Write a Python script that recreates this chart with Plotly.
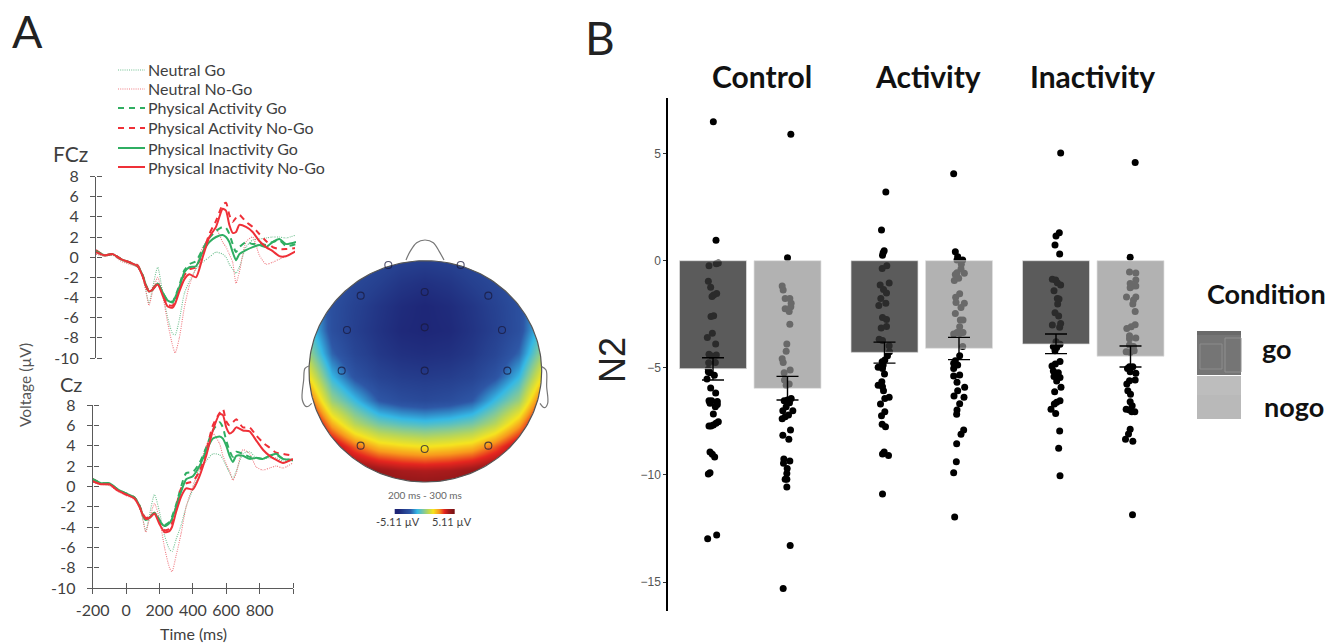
import numpy as np
import plotly.graph_objects as go

W, H = 1330, 643
def px(x): return x / W
def py(y): return 1 - y / H

# ---------- Panel A: ERP waveforms ----------
T = [-200,-150,-100,-50,0,50,80,100,118,140,170,200,230,260,275,300,330,360,400,440,480,520,560,580,600,620,640,660,700,740,780,820,860,900,940,1000]
SERIES_NAMES = ["Neutral Go","Neutral No-Go","Physical Activity Go","Physical Activity No-Go","Physical Inactivity Go","Physical Inactivity No-Go"]

FCZ_NEU_GO   = [0.3,0.1,0.2,-0.3,-0.6,-1.0,-2.0,-3.4,-4.6,-3.0,-1.0,-3.5,-6.0,-7.6,-7.7,-6.2,-3.6,-2.4,-1.2,-0.5,0.0,0.5,0.3,0.0,-0.7,-1.2,-1.6,-1.0,1.0,1.7,1.8,1.9,2.0,2.0,1.9,2.2]
FCZ_NEU_NOGO = [0.3,0.1,0.2,-0.4,-0.7,-1.0,-2.0,-3.4,-4.8,-3.4,-2.0,-3.8,-6.5,-8.8,-9.5,-8.0,-5.0,-2.8,-1.0,1.0,2.0,2.8,1.5,1.0,0.3,-0.5,-2.6,-1.5,1.5,2.0,0.2,-0.7,-0.5,-0.2,0.1,0.6]
FCZ_PA_GO    = [0.6,0.2,0.3,-0.2,-0.5,-0.9,-1.8,-2.8,-3.5,-3.2,-2.6,-3.5,-4.3,-4.4,-3.9,-2.8,-1.3,-0.7,-0.4,0.8,1.9,2.6,3.0,2.9,2.3,1.3,0.5,1.0,1.5,1.3,1.4,1.2,1.5,1.7,1.1,1.3]
FCZ_PA_NOGO  = [0.7,0.2,0.3,-0.2,-0.5,-0.8,-1.8,-2.8,-3.3,-3.1,-2.6,-3.6,-4.7,-4.8,-4.3,-3.1,-1.8,-1.2,-1.0,0.4,2.3,3.6,5.2,5.4,4.2,3.5,3.9,4.2,3.5,3.0,2.3,1.6,1.0,0.8,0.8,0.9]
FCZ_PI_GO    = [0.6,0.2,0.3,-0.2,-0.5,-0.9,-1.8,-2.8,-3.4,-3.2,-2.6,-3.5,-4.3,-4.5,-4.0,-3.0,-1.5,-1.0,-0.9,0.5,1.5,2.0,2.2,2.0,1.5,0.5,-0.3,0.3,0.7,1.0,1.2,1.0,1.5,1.8,1.3,1.5]
FCZ_PI_NOGO  = [0.5,0.2,0.3,-0.2,-0.5,-0.9,-1.9,-2.9,-3.4,-3.2,-2.7,-3.8,-4.9,-5.0,-4.6,-3.4,-2.2,-1.7,-2.0,0.0,2.0,3.0,4.8,4.6,3.2,2.4,2.5,3.2,3.0,2.5,1.6,1.0,0.6,0.1,0.1,0.6]

CZ_NEU_GO    = [0.4,0.2,0.1,-0.4,-0.8,-1.2,-2.0,-3.2,-4.4,-2.8,-0.8,-2.5,-4.8,-6.2,-6.4,-5.2,-3.8,-2.0,-0.3,1.5,2.5,3.2,3.1,2.7,2.0,1.3,0.8,1.5,3.2,3.4,2.8,2.7,2.8,2.8,2.5,2.5]
CZ_NEU_NOGO  = [0.5,0.2,0.1,-0.5,-0.9,-1.3,-2.1,-3.2,-4.5,-3.2,-1.7,-3.2,-6.0,-8.0,-8.4,-6.8,-4.6,-2.0,0.0,2.0,4.0,5.2,4.2,3.0,2.2,1.5,0.6,1.3,3.6,3.2,1.9,1.6,1.8,2.0,1.8,2.3]
CZ_PA_GO     = [0.7,0.3,0.3,-0.3,-0.7,-1.1,-1.9,-2.8,-3.3,-3.1,-2.6,-3.3,-3.8,-3.5,-3.0,-1.8,0.0,1.3,1.4,2.3,3.8,5.5,6.3,5.8,4.5,3.5,2.9,3.4,3.2,2.9,2.8,2.7,3.0,3.1,2.7,2.6]
CZ_PA_NOGO   = [0.7,0.3,0.2,-0.4,-0.8,-1.1,-1.9,-2.7,-3.1,-3.0,-2.6,-3.5,-4.3,-4.2,-3.6,-2.0,-0.2,0.3,0.5,1.5,3.5,6.0,7.2,7.6,6.4,6.0,6.3,6.6,5.8,5.8,5.0,4.3,3.8,3.3,3.2,3.0]
CZ_PI_GO     = [0.7,0.3,0.3,-0.3,-0.7,-1.1,-1.9,-2.8,-3.3,-3.1,-2.6,-3.4,-3.9,-3.6,-3.2,-2.0,-0.5,0.7,1.0,2.0,3.5,4.7,4.9,4.7,4.0,3.0,2.4,3.0,3.0,2.7,2.8,2.7,3.0,3.2,2.7,2.6]
CZ_PI_NOGO   = [0.5,0.2,0.2,-0.4,-0.8,-1.2,-2.0,-2.8,-3.2,-3.1,-2.7,-3.7,-4.5,-4.4,-4.0,-2.5,-1.0,-0.2,-0.3,1.0,3.0,5.5,7.1,7.0,5.8,5.2,5.4,5.8,5.5,5.4,4.5,3.6,3.0,2.6,2.3,2.7]

VOLT_TICKS = [8,6,4,2,0,-2,-4,-6,-8,-10]
TIME_TICKS = [-200,0,200,400,600,800,1000]
TIME_LABELS = ["-200","0","200","400","600","800",""]

# ---------- Panel A: topographic map (voltage, rows top to bottom) ----------
TOPO_X = [40,110,180,250,320,390,460,530,600,670,740]
TOPO_Y = [90,160,230,300,370,440,510,580,650,720,790]
TOPO_Z = [
 [-2.0,-2.8,-3.2,-3.6,-3.9,-4.0,-3.9,-3.6,-3.2,-2.8,-2.0],
 [-2.0,-3.0,-3.6,-4.0,-4.4,-4.6,-4.4,-4.0,-3.6,-3.0,-2.0],
 [-1.5,-3.2,-3.9,-4.4,-4.8,-5.0,-4.8,-4.4,-3.9,-3.2,-1.5],
 [-1.0,-3.2,-4.0,-4.5,-4.9,-5.0,-4.9,-4.5,-4.0,-3.2,-1.0],
 [ 0.0,-2.6,-3.7,-4.3,-4.6,-4.7,-4.6,-4.3,-3.7,-2.6, 0.0],
 [ 1.5,-1.5,-3.0,-3.8,-4.1,-4.2,-4.1,-3.8,-3.0,-1.5, 1.5],
 [ 3.3, 0.0,-1.4,-2.8,-3.3,-3.5,-3.3,-2.8,-1.4, 0.0, 3.3],
 [ 5.0, 2.2, 0.4,-0.6,-1.0,-1.2,-1.0,-0.6, 0.4, 2.2, 5.0],
 [ 5.1, 4.4, 3.0, 2.0, 1.7, 1.5, 1.7, 2.0, 3.0, 4.4, 5.1],
 [ 5.1, 5.1, 5.0, 4.6, 4.3, 4.2, 4.3, 4.6, 5.0, 5.1, 5.1],
 [ 5.1, 5.1, 5.1, 5.1, 5.1, 5.1, 5.1, 5.1, 5.1, 5.1, 5.1],
]
ELECTRODE_X = [280,497,197,389,580,156,389,621,140,389,637,197,389,580]
ELECTRODE_Y = [105,105,197,186,197,300,292,300,422,422,422,647,657,647]
NOSE_X = [333,345,365,390,415,433,447]
NOSE_Y = [90,65,38,30,38,65,90]
EAR_L_X = [42,30,26,22,35,50]
EAR_L_Y = [408,415,450,510,530,520]
EAR_R_X = [740,753,755,758,748,735]
EAR_R_Y = [410,420,470,520,533,520]
CBAR_VALUES = [-5.11,-4,-2.8,-1.5,-0.5,0.5,1.5,2.5,3.5,4.3,5.11]

# ---------- Panel B: N2 by group and condition ----------
GROUPS = ["Control","Activity","Inactivity"]
GO_MEAN   = [-5.04,-4.28,-3.89]
NOGO_MEAN = [-5.96,-4.09,-4.46]
GO_ERR_TOP = [-4.53,-3.80,-3.42]
GO_ERR_BOT = [-5.57,-4.78,-4.34]
NOGO_ERR_TOP = [-5.40,-3.58,-3.98]
NOGO_ERR_BOT = [-6.50,-4.62,-4.96]

CONTROL_GO_V = [6.49,.95,-.11,-.14,-.23,-.96,-1.24,-1.53,-1.6,-1.67,-2.57,-2.6,-3.39,-3.58,-3.89,-4.37,-4.4,-4.45,-4.76,-4.75,-5.07,-5.18,-5.23,-5.35,-5.52,-5.94,-6.18,-6.54,-6.57,-6.54,-6.66,-6.71,-6.82,-7.16,-7.52,-7.59,-7.67,-7.72,-7.72,-8.93,-9.04,-9.17,-9.9,-9.96,-12.8,-12.98]
CONTROL_GO_J = [1,9,16,10,-12,-14,-7,11,2,-3,2,-6,-2,-17,8,-12,10,-4,-13,7,-14,-14,-9,4,-18,-7,8,-12,13,-4,-9,13,7,1,16,9,1,-12,-6,-9,-2,5,-9,-14,11,-16]
CONTROL_NOGO_V = [5.9,.14,-1.18,-1.37,-1.77,-1.77,-1.99,-2.15,-2.24,-2.37,-2.97,-3.89,-4.23,-4.58,-4.75,-5.1,-5.23,-5.57,-5.76,-5.82,-6.43,-6.5,-6.54,-6.63,-6.82,-7.0,-7.0,-7.2,-7.28,-7.38,-7.9,-8.15,-8.34,-9.26,-9.35,-9.46,-9.7,-9.94,-10.2,-10.2,-10.57,-13.3,-15.3]
CONTROL_NOGO_J = [10,0,-16,-13,-7,7,11,10,-7,5,7,-2,-4,-16,-13,8,-10,-9,5,-4,11,0,-10,6,-4,16,-14,3,-7,-16,9,-14,4,-11,7,-12,-1,-2,-2,-7,-2,8,-13]
ACTIVITY_GO_V = [3.21,1.43,.47,.37,.26,-.23,-.36,-1.04,-1.14,-1.34,-1.51,-1.76,-1.99,-2.09,-2.65,-2.75,-3.07,-3.14,-3.67,-3.73,-3.97,-4.25,-4.44,-4.64,-4.72,-4.87,-4.98,-5.03,-5.29,-5.65,-5.82,-5.88,-6.07,-6.38,-6.43,-6.69,-7.05,-7.24,-7.63,-7.75,-8.93,-9.03,-9.09,-10.89]
ACTIVITY_GO_J = [4,-9,-1,-4,-6,7,-7,14,-13,-3,6,-11,4,-17,-6,6,6,-10,-16,-6,14,15,9,1,-7,-4,-19,-6,0,-8,-19,-6,-3,14,1,-12,1,-9,-7,3,-1,-6,12,-6]
ACTIVITY_NOGO_V = [4.06,.42,.19,.03,.03,-.16,-.39,-.59,-.56,-.64,-.82,-.93,-1.54,-1.71,-1.95,-1.99,-2.18,-2.47,-2.77,-2.77,-3.08,-3.35,-3.35,-3.42,-3.39,-4.01,-4.44,-4.79,-4.67,-4.87,-5.03,-5.34,-5.38,-5.68,-5.91,-6.07,-6.32,-6.38,-6.68,-6.97,-7.17,-7.9,-8.1,-8.54,-9.39,-9.9,-11.97]
ACTIVITY_NOGO_J = [-16,-11,-4,11,-6,7,6,16,-6,-11,-1,-14,2,-10,-9,16,6,-11,4,12,2,-6,12,-16,2,11,2,-16,-11,-4,-16,2,-16,-6,17,-4,-15,15,2,-6,-7,14,6,-7,-8,-16,-13]
INACTIVITY_GO_V = [5.03,1.31,1.15,.73,.31,-.87,-.9,-1.14,-1.03,-1.4,-1.76,-1.79,-2.02,-2.43,-2.58,-2.93,-3.0,-3.11,-3.78,-3.9,-4.01,-4.05,-4.2,-4.71,-4.82,-4.92,-5.15,-5.23,-5.41,-5.45,-5.62,-5.91,-6.12,-6.54,-6.61,-6.69,-6.94,-7.13,-7.95,-8.76,-10.04]
INACTIVITY_GO_J = [14,10,0,-3,11,-11,-1,14,4,-6,4,9,5,-3,8,14,-11,11,0,12,-8,2,-3,12,-2,-12,-8,7,-6,12,2,15,-4,12,2,-5,-15,-1,11,8,12]
INACTIVITY_NOGO_V = [4.58,.16,-.53,-.58,-.9,-1.07,-1.18,-1.18,-1.26,-1.7,-1.7,-1.84,-2.02,-2.37,-2.99,-3.08,-3.17,-3.5,-3.64,-3.61,-3.94,-4.01,-4.2,-4.25,-4.28,-4.95,-4.95,-5.03,-5.18,-5.26,-5.57,-5.6,-5.76,-6.07,-6.24,-6.58,-6.77,-6.94,-6.97,-7.05,-7.05,-7.87,-8.09,-8.34,-8.43,-11.86]
INACTIVITY_NOGO_J = [14,-1,-3,16,16,-1,16,7,-1,16,-12,9,7,14,14,2,-11,-3,-3,16,-3,9,11,-13,-1,-3,7,-9,-1,16,14,-3,-11,-8,0,-1,5,-13,-3,4,13,-1,-6,-15,7,6]
N2_TICKS = [5,0,-5,-10,-15]
N2_LABELS = ["5","0","\u22125","\u221210","\u221215"]

# ---------- Styles ----------
GREEN, RED = "#2fae62", "#ef3038"
AX = "#5a5a5a"
TXT = "#3f3f3f"
FONT_A = "Lato"
STYLES = [
    dict(color="#6fbf8f", width=1.1, dash="1px,1.2px"),
    dict(color="#ef7a80", width=1.1, dash="1px,1.2px"),
    dict(color=GREEN, width=2, dash="6px,5px"),
    dict(color=RED, width=2, dash="6px,5px"),
    dict(color=GREEN, width=2, dash="solid"),
    dict(color=RED, width=2, dash="solid"),
]
LEGEND_ROW_Y = [70, 89, 108, 128, 148, 167]

fig = go.Figure()

fcz = [FCZ_NEU_GO, FCZ_NEU_NOGO, FCZ_PA_GO, FCZ_PA_NOGO, FCZ_PI_GO, FCZ_PI_NOGO]
cz  = [CZ_NEU_GO, CZ_NEU_NOGO, CZ_PA_GO, CZ_PA_NOGO, CZ_PI_GO, CZ_PI_NOGO]
for name, st, a, b in zip(SERIES_NAMES, STYLES, fcz, cz):
    fig.add_trace(go.Scatter(x=T, y=a, mode="lines", name=name, xaxis="x3", yaxis="y3", showlegend=False,
                             line=dict(shape="spline", smoothing=0.6, **st)))
    fig.add_trace(go.Scatter(x=T, y=b, mode="lines", name=name, xaxis="x4", yaxis="y4", showlegend=False,
                             line=dict(shape="spline", smoothing=0.6, **st)))
fig.add_trace(go.Scatter(x=[None], y=[None], xaxis="x3", yaxis="y7", showlegend=False))
fig.add_trace(go.Scatter(x=[None], y=[None], xaxis="x4", yaxis="y8", showlegend=False))
fig.add_trace(go.Scatter(x=[None], y=[None], xaxis="x8", yaxis="y4", showlegend=False))

# topographic map
CSCALE_STOPS = [(-5.11,"#1d2475"),(-4.0,"#26408f"),(-2.8,"#2e57a6"),(-1.5,"#35b9e6"),(-0.5,"#7cc8a0"),
                (0.5,"#bcd755"),(1.5,"#f6e51f"),(2.5,"#f8981d"),(3.5,"#e6261f"),(4.3,"#a81b1c"),(5.11,"#7d1416")]
CSCALE = [[(v + 5.11) / 10.22, c] for v, c in CSCALE_STOPS]
fig.add_trace(go.Heatmap(x=TOPO_X, y=TOPO_Y, z=TOPO_Z, zmin=-5.11, zmax=5.11, colorscale=CSCALE,
                         zsmooth="best", showscale=False, xaxis="x5", yaxis="y5", hoverinfo="skip"))
cx, cy, rx, ry = 391, 424, 349, 332
th = np.linspace(0, 2 * np.pi, 241)
ex, ey = cx + rx * np.cos(th), cy + ry * np.sin(th)
mask_x = [0, 800, 800, 0, 0] + list(ex[::-1])
mask_y = [48, 48, 832, 832, 48] + list(ey[::-1])
fig.add_trace(go.Scatter(x=mask_x, y=mask_y, mode="lines", fill="toself", fillcolor="white",
                         line=dict(width=0, color="white"), xaxis="x5", yaxis="y5",
                         showlegend=False, hoverinfo="skip"))
fig.add_trace(go.Scatter(x=ex, y=ey, mode="lines", line=dict(color="#555555", width=1.2),
                         xaxis="x5", yaxis="y5", showlegend=False, hoverinfo="skip"))
for xs, ys in [(NOSE_X, NOSE_Y), (EAR_L_X, EAR_L_Y), (EAR_R_X, EAR_R_Y)]:
    fig.add_trace(go.Scatter(x=xs, y=ys, mode="lines", line=dict(color="#777777", width=1.2, shape="spline"),
                             xaxis="x5", yaxis="y5", showlegend=False, hoverinfo="skip"))
fig.add_trace(go.Scatter(x=ELECTRODE_X, y=ELECTRODE_Y, mode="markers", xaxis="x5", yaxis="y5", showlegend=False,
                         marker=dict(symbol="circle-open", size=7, color="rgba(25,25,60,0.75)", line=dict(width=1.1))))
fig.add_trace(go.Heatmap(x=[308 + (v + 5.11) / 10.22 * 164 for v in CBAR_VALUES], y=[841, 849],
                         z=[CBAR_VALUES, CBAR_VALUES], zmin=-5.11, zmax=5.11, colorscale=CSCALE, zsmooth="best",
                         showscale=False, xaxis="x5", yaxis="y5", hoverinfo="skip"))

# Panel B points (below the translucent bars)
GROUP_UNIT = 171.5
DODGE = 74.5 / GROUP_UNIT / 2
BAR_W = 67 / GROUP_UNIT
J = 1 / (3 * GROUP_UNIT)
cols = [(0, -1, CONTROL_GO_V, CONTROL_GO_J), (0, 1, CONTROL_NOGO_V, CONTROL_NOGO_J),
        (1, -1, ACTIVITY_GO_V, ACTIVITY_GO_J), (1, 1, ACTIVITY_NOGO_V, ACTIVITY_NOGO_J),
        (2, -1, INACTIVITY_GO_V, INACTIVITY_GO_J), (2, 1, INACTIVITY_NOGO_V, INACTIVITY_NOGO_J)]
for g, s, v, j in cols:
    fig.add_trace(go.Scatter(x=[g + s * DODGE + k * J for k in j], y=v, mode="markers", showlegend=False,
                             marker=dict(color="black", size=7), xaxis="x", yaxis="y"))

xgo = [i - DODGE for i in range(3)]
xno = [i + DODGE for i in range(3)]
fig.add_trace(go.Bar(x=xgo, y=GO_MEAN, width=BAR_W, xaxis="x2", yaxis="y2", showlegend=False,
                     marker=dict(color="rgba(53,53,53,0.81)", line=dict(color="rgba(225,225,225,0.9)", width=0.8)),
                     error_y=dict(type="data", symmetric=False, color="black", thickness=1.4, width=11,
                                  array=[t - m for t, m in zip(GO_ERR_TOP, GO_MEAN)],
                                  arrayminus=[m - b for m, b in zip(GO_MEAN, GO_ERR_BOT)])))
fig.add_trace(go.Bar(x=xno, y=NOGO_MEAN, width=BAR_W, xaxis="x2", yaxis="y2", showlegend=False,
                     marker=dict(color="rgba(147,147,147,0.714)", line=dict(color="rgba(225,225,225,0.9)", width=0.8)),
                     error_y=dict(type="data", symmetric=False, color="black", thickness=1.4, width=11,
                                  array=[t - m for t, m in zip(NOGO_ERR_TOP, NOGO_MEAN)],
                                  arrayminus=[m - b for m, b in zip(NOGO_MEAN, NOGO_ERR_BOT)])))

# Axes
def volt_axis(top, bottom):
    return dict(domain=[py(bottom), py(top)], range=[-10, 8], tickvals=VOLT_TICKS, ticktext=[str(v) for v in VOLT_TICKS],
                ticks="outside", ticklen=5, tickcolor=AX, linecolor=AX, linewidth=1, showline=True, showgrid=False,
                zeroline=False, tickfont=dict(family=FONT_A, size=16, color=TXT), ticklabelstandoff=8, automargin=False)

xr_b = [-(750.25 - 668) / GROUP_UNIT, (1176 - 750.25) / GROUP_UNIT]
yr_b = [-(611 - 260.7) / 21.42, (260.7 - 98) / 21.42]

layout = dict(
    template="none",
    width=W, height=H, margin=dict(l=0, r=0, t=0, b=0, autoexpand=False), paper_bgcolor="white", plot_bgcolor="rgba(0,0,0,0)",
    barmode="overlay", hovermode=False, showlegend=False,
    # panel B
    xaxis=dict(domain=[px(668), px(1176)], range=xr_b, visible=False),
    yaxis=dict(domain=[py(611), py(98)], range=yr_b, anchor="x", showline=True, linecolor="black", linewidth=1.5,
               tickvals=N2_TICKS, ticktext=N2_LABELS, ticks="outside", ticklen=3, tickcolor="#333333",
               tickfont=dict(family="Liberation Sans", size=12, color="#555555"), showgrid=False, zeroline=False),
    xaxis2=dict(domain=[px(668), px(1176)], range=xr_b, visible=False, overlaying="x", anchor="y2"),
    yaxis2=dict(domain=[py(611), py(98)], range=yr_b, visible=False, overlaying="y", anchor="x2"),
    # FCz
    xaxis3=dict(domain=[px(96), px(296)], range=[-200, 1000], visible=False, anchor="y3"),
    yaxis3=dict(anchor="x3", **volt_axis(176.5, 358)),
    yaxis7=dict(domain=[py(358), py(176.5)], range=[-10, 8], overlaying="y3", side="right", anchor="free", position=px(96),
                tickvals=VOLT_TICKS, ticks="outside", ticklen=5, tickcolor=AX, showticklabels=False,
                showgrid=False, zeroline=False, showline=False),
    # Cz
    xaxis4=dict(domain=[px(92.7), px(293)], range=[-200, 1000], anchor="y4", tickvals=TIME_TICKS, ticktext=TIME_LABELS,
                ticks="outside", ticklen=5, tickcolor=AX, linecolor=AX, showline=True, showgrid=False, zeroline=False,
                tickfont=dict(family=FONT_A, size=16, color=TXT), ticklabelstandoff=3, tickangle=0),
    yaxis4=dict(anchor="x4", **volt_axis(405, 588)),
    yaxis8=dict(domain=[py(588), py(405)], range=[-10, 8], overlaying="y4", side="right", anchor="free", position=px(92.7),
                tickvals=VOLT_TICKS, ticks="outside", ticklen=5, tickcolor=AX, showticklabels=False,
                showgrid=False, zeroline=False, showline=False),
    xaxis8=dict(domain=[px(92.7), px(293)], range=[-200, 1000], overlaying="x4", side="top", anchor="free", position=py(588),
                tickvals=TIME_TICKS, ticks="outside", ticklen=5, tickcolor=AX, showticklabels=False,
                showgrid=False, zeroline=False, showline=False),
    # topo map
    xaxis5=dict(domain=[px(295), px(565)], range=[0, 810], visible=False, anchor="y5"),
    yaxis5=dict(domain=[py(540), py(230)], range=[930, 0], visible=False, anchor="x5"),
)
fig.update_layout(**layout)

def label(text, x, y, size, family=FONT_A, color=TXT, bold=False, angle=0, xanchor="center"):
    fig.add_annotation(x=px(x), y=py(y), xref="paper", yref="paper", text=f"<b>{text}</b>" if bold else text,
                       showarrow=False, xanchor=xanchor, yanchor="middle", textangle=angle,
                       font=dict(family=family, size=size, color=color))

# legend of panel A
for name, st, ry_ in zip(SERIES_NAMES, STYLES, LEGEND_ROW_Y):
    label(name, 146, ry_, 16, xanchor="left")
    fig.add_shape(type="line", xref="paper", yref="paper", x0=px(118), x1=px(145), y0=py(ry_), y1=py(ry_),
                  line=dict(color=st["color"], width=st["width"], dash=st["dash"]))

label("A", 27, 31, 45, color="#222222")
label("B", 600, 37, 46, color="#222222")
label("FCz", 70, 153, 21)
label("Cz", 71, 384, 20)
label("Voltage (\u00b5V)", 25, 385, 15.5, color="#555555", angle=-90)
label("Time (ms)", 193, 633, 16)
label("200 ms - 300 ms", 425, 495, 10, color="#666666")
label("-5.11 \u00b5V", 398, 521, 11)
label("5.11 \u00b5V", 452, 521, 11)
for g, xc in zip(GROUPS, [762, 928, 1092]):
    label(g, xc, 76, 30, color="#111111", bold=True)
label("N2", 612, 360, 36, family="Liberation Sans", color="#222222", angle=-90)
label("Condition", 1266, 293, 27, color="#111111", bold=True)
label("go", 1277, 348, 27, color="#111111", bold=True)
label("nogo", 1294, 406, 27, color="#111111", bold=True)

def rect(x0, y0, x1, y1, fill, line=None):
    fig.add_shape(type="rect", xref="paper", yref="paper", x0=px(x0), x1=px(x1), y0=py(y0), y1=py(y1),
                  fillcolor=fill, line=dict(width=1 if line else 0, color=line or fill))

rect(1197, 331, 1241, 375, "#757575")
rect(1197, 331, 1241, 335, "#6a6a6a")
rect(1200, 344, 1222, 369, "rgba(0,0,0,0)", "#8c8c8c")
rect(1225, 338, 1241, 372, "rgba(0,0,0,0)", "#909090")
rect(1197, 376, 1241, 419, "#b9b9b9")
rect(1197, 376, 1241, 395, "#bdbdbd")

fig.write_html("out.html", config=dict(displayModeBar=False),
               post_script="document.body.style.margin='0';document.body.style.overflow='hidden';")
